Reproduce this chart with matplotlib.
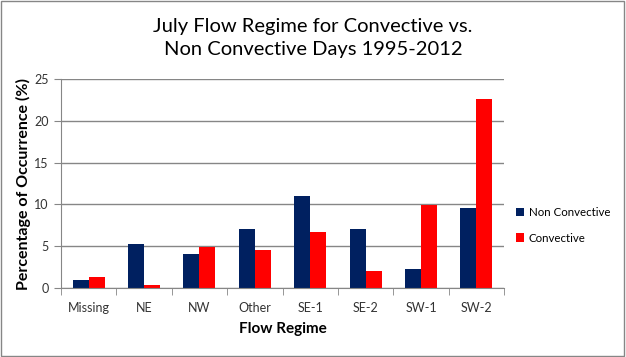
import numpy as np
from matplotlib import pyplot as plt

regimes = ["Missing", "NE", "NW", "Other", "SE-1", "SE-2", "SW-1", "SW-2"]
non_convective = [0.9, 5.3, 4.1, 7.0, 11.0, 7.1, 2.3, 9.6]
convective = [1.35, 0.3, 4.85, 4.6, 6.75, 2.0, 9.95, 22.55]

plt.rcParams['font.family'] = ['Lato', 'DejaVu Sans']

fig = plt.figure(figsize=(6.26, 3.57), dpi=100)
ax = fig.add_axes([61/626, 69/357, 443/626, 209/357])

x = np.arange(len(regimes))
w = 0.29
ax.bar(x - w/2, non_convective, w, color='#002060', label='Non Convective')
ax.bar(x + w/2, convective, w, color='#FF0000', label='Convective')

ax.set_xlim(-0.5, len(regimes) - 0.5)
ax.set_ylim(0, 25)
ax.set_yticks([0, 5, 10, 15, 20, 25])
ax.set_xticks(x)
ax.set_xticklabels(regimes)
ax.set_xticks(np.arange(len(regimes) + 1) - 0.5, minor=True)
ax.tick_params(axis='x', which='major', length=0, pad=10, labelsize=9, colors='#333333')
ax.tick_params(axis='x', which='minor', length=5, color='#868686', direction='out')
ax.tick_params(axis='y', length=5, color='#868686', labelsize=9, colors='#333333', pad=4)
ax.yaxis.grid(True, color='#868686', linewidth=1)
ax.set_axisbelow(True)
for s in ['top', 'right']:
    ax.spines[s].set_visible(False)
for s in ['left', 'bottom']:
    ax.spines[s].set_color('#868686')

ax.set_xlabel('Flow Regime', fontsize=11, fontweight='bold', labelpad=6)
ax.set_ylabel('Percentage of Occurrence (%)', fontsize=11.5, fontweight='bold', labelpad=2)

fig.text(0.5, 1 - 38/357, 'July Flow Regime for Convective vs.\nNon Convective Days 1995-2012',
         ha='center', va='center', fontsize=14.5, linespacing=1.45)

ax.legend(loc='center left', bbox_to_anchor=(1.0, 0.30), frameon=False, fontsize=8.3,
          handlelength=0.75, handleheight=0.75, handletextpad=0.4, labelspacing=1.25,
          borderaxespad=0.6)

fig.patches.append(plt.Rectangle((0.002, 0.003), 0.995, 0.993, transform=fig.transFigure,
                                 fill=False, edgecolor='#868686', linewidth=1))

fig.savefig('out.png', dpi=100)
